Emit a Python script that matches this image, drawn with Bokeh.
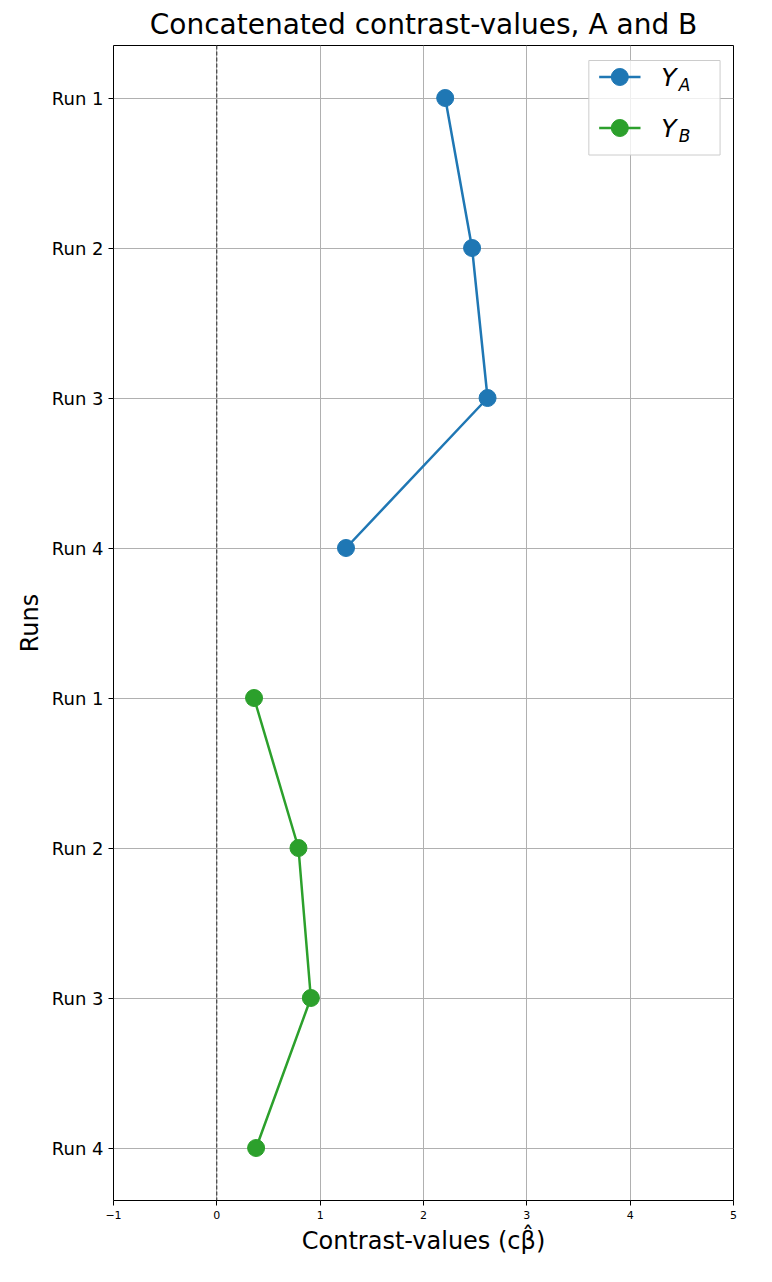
from bokeh.plotting import figure
from bokeh.models import FixedTicker, Span
from bokeh.core.properties import value
from bokeh.embed import file_html
from bokeh.resources import INLINE

run_labels = ["Run 1", "Run 2", "Run 3", "Run 4", "Run 1", "Run 2", "Run 3", "Run 4"]
ya_values = [2.21, 2.47, 2.62, 1.25]
yb_values = [0.36, 0.79, 0.91, 0.38]
ya_pos = [0, 1, 2, 3]
yb_pos = [4, 5, 6, 7]

blue = "#1f77b4"
green = "#2ca02c"
font = "DejaVu Sans"

p = figure(width=764, height=1274, x_range=(-1, 5), y_range=(7.35, -0.35),
           output_backend="svg", toolbar_location=None,
           title="Concatenated contrast-values, A and B",
           min_border_left=113, min_border_right=31, min_border_top=45, min_border_bottom=74)
p.title.text_font = font
p.title.text_font_size = "28px"
p.title.text_font_style = "normal"
p.title.text_color = "black"
p.title.align = "center"
p.outline_line_color = "black"

p.xaxis.ticker = FixedTicker(ticks=[-1, 0, 1, 2, 3, 4, 5])
p.yaxis.ticker = FixedTicker(ticks=list(range(8)))
p.yaxis.major_label_overrides = {i: lab for i, lab in enumerate(run_labels)}
for ax in (p.xaxis, p.yaxis):
    ax.major_label_text_font = font
    ax.major_label_text_color = "black"
    ax.axis_label_text_font = font
    ax.axis_label_text_color = "black"
    ax.axis_label_text_font_style = "normal"
    ax.axis_label_text_font_size = "24px"
    ax.minor_tick_line_color = None
    ax.major_tick_line_color = "black"
    ax.major_tick_out = 5
    ax.major_tick_in = 0
    ax.axis_line_color = None
p.xaxis.major_label_text_font_size = "11px"
p.yaxis.major_label_text_font_size = "18px"
p.xaxis.axis_label = "Contrast-values (cβ̂)"
p.yaxis.axis_label = "Runs"
p.grid.grid_line_color = "#b0b0b0"
p.grid.grid_line_width = 1

p.add_layout(Span(location=0, dimension="height", line_color="black",
                  line_dash="4 2", line_width=0.8))

p.line(ya_values, ya_pos, line_color=blue, line_width=2.5)
p.scatter(ya_values, ya_pos, size=17, fill_color=blue, line_color=blue)
p.line(yb_values, yb_pos, line_color=green, line_width=2.5)
p.scatter(yb_values, yb_pos, size=17, fill_color=green, line_color=green)

# manual legend (for subscripted labels)
p.quad(left=[3.6], right=[4.87], top=[-0.25], bottom=[0.38], fill_color="white",
       fill_alpha=0.8, line_color="#cccccc", line_width=1)
for yy, col, sub in [(-0.14, blue, "A"), (0.2, green, "B")]:
    p.line([3.7, 4.1], [yy, yy], line_color=col, line_width=2.5)
    p.scatter([3.9], [yy], size=17, fill_color=col, line_color=col)
    p.text([4.3], [yy], text=["Y"], text_font=value(font), text_font_style="italic",
           text_font_size="25px", text_baseline="middle", text_align="left", text_color="black")
    p.text([4.47], [yy + 0.05], text=[sub], text_font=value(font), text_font_style="italic",
           text_font_size="17px", text_baseline="middle", text_align="left", text_color="black")

open("out.html", "w").write(file_html(p, INLINE))
